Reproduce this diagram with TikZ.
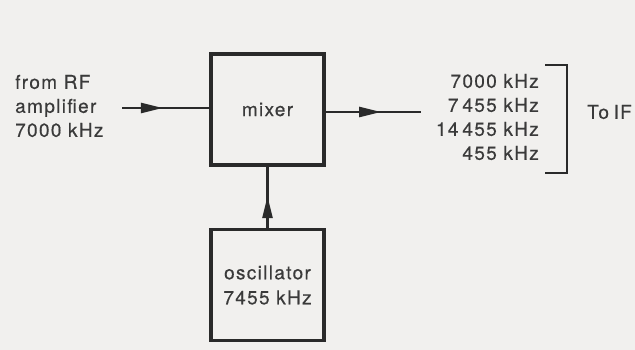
\documentclass[tikz,border=0pt]{standalone}
\usepackage{fontspec}
\setmainfont{TeX Gyre Heros}
\newfontfamily\diagfont[LetterSpace=7,FakeBold=0.4]{TeX Gyre Heros}
\usetikzlibrary{arrows.meta,decorations.markings}
\definecolor{paper}{HTML}{F1F0EE}
\definecolor{ink}{HTML}{2A2A2A}
\definecolor{txt}{HTML}{3A3A3A}
\tikzset{
  blockbox/.style={draw=ink, line width=3.8pt, minimum width=113pt, minimum height=111pt, inner sep=0pt, font=\diagfont\fontsize{19}{25}\selectfont, text=txt, align=center},
  lbl/.style={font=\diagfont\fontsize{19}{24}\selectfont, text=txt, inner sep=0pt},
  conn/.style={draw=ink, line width=2.4pt, postaction={decorate}},
  midarrow/.style={decoration={markings, mark=at position #1 with {\arrow{Triangle[length=22pt,width=10pt]}}}},
  brk/.style={draw=ink, line width=1.6pt}
}
\begin{document}
\begin{tikzpicture}[x=1pt,y=-1pt]
\fill[paper] (0,0) rectangle (635,350);
\useasboundingbox (0,0) rectangle (635,350);
\node[blockbox] (mixer) at (267.5,109.5) {mixer};
\node[blockbox] (osc) at (267.5,285) {oscillator\\7455 kHz};
\node[lbl, align=left, anchor=west] (inlbl) at (15,106) {from RF\\amplifier\\7000 kHz};
\coordinate (inS) at (122,108);
\coordinate (outE) at (421,112);
\draw[conn, midarrow=0.47] (inS) -- (inS -| mixer.west);
\draw[conn, midarrow=0.58] (outE -| mixer.east) -- (outE);
\draw[conn, midarrow=0.52] (osc.north) -- (mixer.south);
\node[lbl, align=right, anchor=east] (outlbl) at (539,117) {7000 kHz\\7\kern4pt 455 kHz\\14\kern4pt 455 kHz\\455 kHz};
\coordinate (bt) at (567,65);
\coordinate (bb) at (567,173);
\draw[brk] ([xshift=-22pt]bt) -- (bt) -- (bb) -- ([xshift=-22pt]bb);
\node[lbl, anchor=west] (toif) at (587,112) {To\kern-2pt\ IF};
\end{tikzpicture}
\end{document}
